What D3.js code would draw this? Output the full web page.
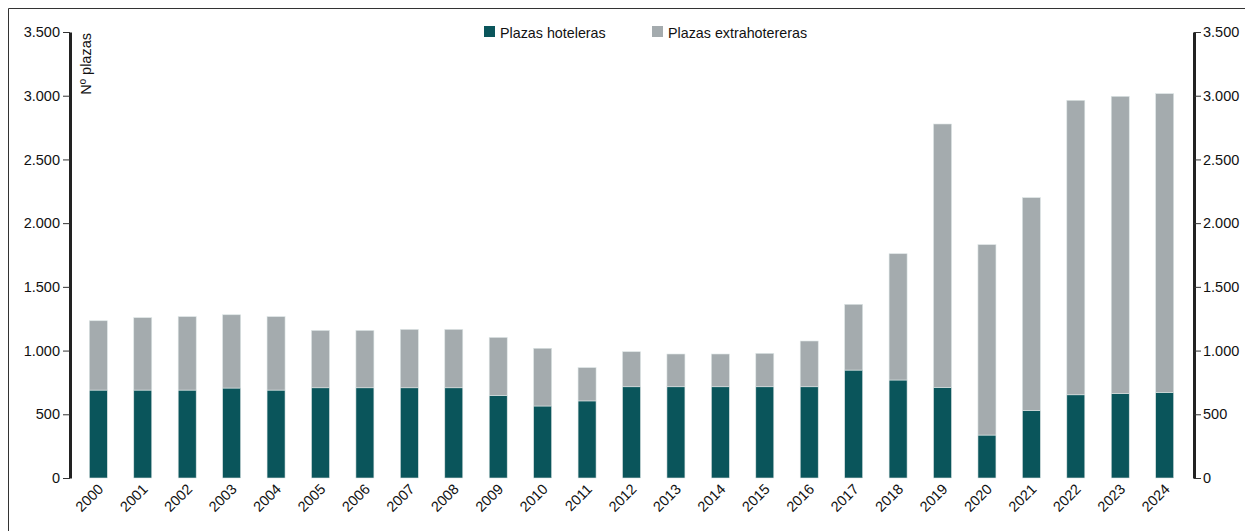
<!DOCTYPE html>
<html>
<head>
<meta charset="utf-8">
<script src="https://cdn.jsdelivr.net/npm/d3@7"></script>
<style>
  body { margin: 0; background: #fff; }
  svg { display: block; font-family: "Liberation Sans", Arial, sans-serif; }
</style>
</head>
<body>
<svg id="chart" width="1245" height="531"></svg>
<script>
const years = ['2000', '2001', '2002', '2003', '2004', '2005', '2006', '2007', '2008', '2009',
  '2010', '2011', '2012', '2013', '2014', '2015', '2016', '2017', '2018', '2019',
  '2020', '2021', '2022', '2023', '2024']
const hoteleras = [690, 690, 690, 706, 690, 708, 708, 708, 708, 648,
  565, 605, 716, 716, 716, 716, 716, 847, 769, 711,
  337, 529, 653, 662, 672]
const totales = [1234, 1258, 1266, 1281, 1266, 1158, 1158, 1166, 1166, 1103,
  1018, 866, 991, 973, 973, 978, 1075, 1363, 1760, 2778,
  1831, 2200, 2964, 2995, 3016]
const extrahoteleras = totales.map((t, i) => t - hoteleras[i])
const yTicks = [0, 500, 1000, 1500, 2000, 2500, 3000, 3500]
const seriesNames = ['Plazas hoteleras', 'Plazas extrahotereras']
const colors = ['#0a555b', '#a4abae']

const svg = d3.select('#chart')
const fmt = d => d3.format(',')(d).replace(/,/g, '.')

// frame
svg.append('path')
  .attr('d', 'M8.5,531 L8.5,8.5 L1245,8.5')
  .attr('fill', 'none')
  .attr('stroke', '#333')
  .attr('stroke-width', 1)

const x = d3.scaleBand().domain(years).range([76, 1187]).paddingInner(0.595).paddingOuter(0.3)
const y = d3.scaleLinear().domain([0, 3500]).range([478, 32])

const rows = years.map((yr, i) => ({ year: yr, hoteleras: hoteleras[i], extra: extrahoteleras[i] }))
const stack = d3.stack().keys(['hoteleras', 'extra'])(rows)

svg.append('g').selectAll('g')
  .data(stack)
  .join('g')
  .attr('fill', (d, i) => colors[i])
  .selectAll('rect')
  .data(d => d)
  .join('rect')
  .attr('x', d => x(d.data.year))
  .attr('y', d => y(d[1]))
  .attr('width', x.bandwidth())
  .attr('height', d => y(d[0]) - y(d[1]))
  .attr('stroke', '#dde5e5')
  .attr('stroke-width', 0.6)

// axes
function styleAxis (g) {
  g.select('.domain').attr('stroke', '#222').attr('stroke-width', 3)
  g.selectAll('.tick line').attr('stroke', '#333').attr('stroke-width', 1)
  g.selectAll('.tick text').attr('fill', '#111').attr('font-size', 14.5).attr('font-family', '"Liberation Sans", Arial, sans-serif')
}

svg.append('g')
  .attr('transform', 'translate(70,0)')
  .call(d3.axisLeft(y).tickValues(yTicks).tickFormat(fmt).tickSize(7).tickSizeOuter(0).tickPadding(3))
  .call(styleAxis)

svg.append('g')
  .attr('transform', 'translate(1194,0)')
  .call(d3.axisRight(y).tickValues(yTicks).tickFormat(fmt).tickSize(7).tickSizeOuter(0).tickPadding(2))
  .call(styleAxis)

// year labels
svg.append('g').selectAll('text')
  .data(years)
  .join('text')
  .attr('transform', d => `translate(${x(d) + x.bandwidth() / 2 + 6},${490}) rotate(-45)`)
  .attr('text-anchor', 'end')
  .attr('font-size', 14.5)
  .attr('fill', '#111')
  .text(d => d)

// y title
svg.append('text')
  .attr('transform', 'translate(91,33) rotate(-90)')
  .attr('text-anchor', 'end')
  .attr('font-size', 14.5)
  .attr('fill', '#111')
  .text('Nº plazas')

// legend
const legendX = [484, 652]
const legend = svg.append('g').selectAll('g')
  .data(seriesNames)
  .join('g')
  .attr('transform', (d, i) => `translate(${legendX[i]},26)`)
legend.append('rect')
  .attr('width', 11).attr('height', 11)
  .attr('fill', (d, i) => colors[i])
legend.append('text')
  .attr('x', 16).attr('y', 12)
  .attr('font-size', 14.3)
  .attr('fill', '#111')
  .text(d => d)
</script>
</body>
</html>
